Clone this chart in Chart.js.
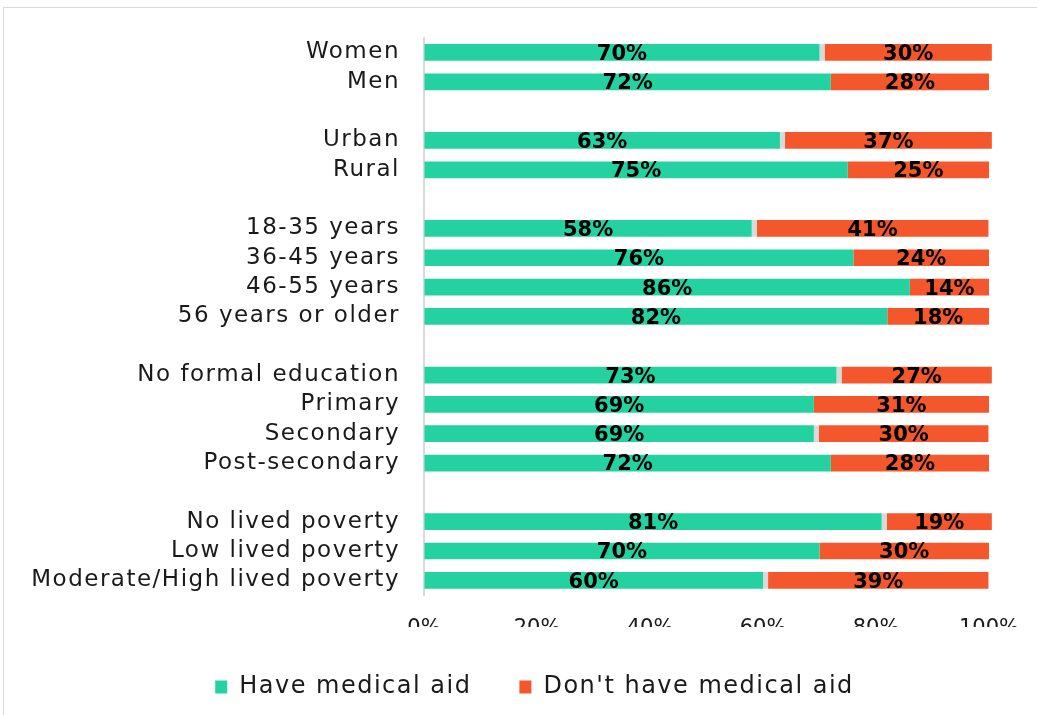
<!DOCTYPE html>
<html>
<head>
<meta charset="utf-8">
<script src="https://cdn.jsdelivr.net/npm/chart.js@4.4.1/dist/chart.umd.min.js"></script>
<style>
html,body{margin:0;padding:0;background:#fff;}
#wrap{width:1037px;height:715px;position:relative;}
</style>
</head>
<body>
<div id="wrap"><canvas id="c" width="1037" height="715"></canvas></div>
<script>
const categories = ['Women','Men','','Urban','Rural','','18-35 years','36-45 years','46-55 years','56 years or older','','No formal education','Primary','Secondary','Post-secondary','','No lived poverty','Low lived poverty','Moderate/High lived poverty'];
const haveMedicalAid = [70,72,null,63,75,null,58,76,86,82,null,73,69,69,72,null,81,70,60];
const unknownShare   = [0.9,0,null,0.9,0,null,0.9,0,0,0,null,0.9,0,0.9,0,null,0.9,0,0.9];
const noMedicalAid   = [29.6,28,null,36.6,25,null,41,24,14,18,null,26.6,31,30,28,null,18.6,30,39];
const xTicks = [0,20,40,60,80,100];
const seriesNames = ['Have medical aid','',"Don't have medical aid"];

const GREEN='#24D1A1', GREY='#D9D9D9', ORANGE='#F4572B';
const FONT='"DejaVu Sans"';
const SP='1.5px';

const spacing = {
  id:'spacing',
  beforeLayout(chart){ chart.ctx.letterSpacing = SP; },
  afterLayout(chart){
    chart.ctx.letterSpacing = '0px';
    if (chart.legend) { chart.legend.left += 30; chart.legend.right += 30; }
  },
  beforeDraw(chart){
    const ctx = chart.ctx;
    ctx.save();
    ctx.strokeStyle = '#D9D9D9';
    ctx.lineWidth = 1;
    ctx.strokeRect(3.5, 7.5, 1100, 800);
    ctx.restore();
    ctx.letterSpacing = SP;
  },
  beforeDatasetsDraw(chart){ chart.ctx.letterSpacing = '0px'; },
  afterDatasetsDraw(chart){
    const ctx = chart.ctx;
    ctx.save();
    ctx.letterSpacing = '0px';
    ctx.font = 'bold 21px ' + FONT;
    ctx.fillStyle = '#000';
    ctx.textAlign = 'center';
    ctx.textBaseline = 'middle';
    [0,2].forEach(di => {
      const meta = chart.getDatasetMeta(di);
      const data = chart.data.datasets[di].data;
      meta.data.forEach((el, i) => {
        const v = data[i];
        if (v == null || v === 0) return;
        ctx.fillText(Math.round(v) + '%', (el.x + el.base) / 2, el.y + 2);
      });
    });
    ctx.restore();
    ctx.letterSpacing = '0px';
  }
};

new Chart(document.getElementById('c'), {
  type: 'bar',
  data: {
    labels: categories,
    datasets: [
      {label: seriesNames[0], data: haveMedicalAid, backgroundColor: GREEN, borderWidth: 0, clip: false},
      {label: seriesNames[1], data: unknownShare, backgroundColor: GREY, borderWidth: 0, clip: false},
      {label: seriesNames[2], data: noMedicalAid, backgroundColor: ORANGE, borderWidth: 0, clip: false}
    ]
  },
  options: {
    indexAxis: 'y',
    responsive: false,
    animation: false,
    events: [],
    barPercentage: 0.57,
    categoryPercentage: 1,
    layout: {padding: {left: 20, right: 48, top: 37, bottom: 6}},
    scales: {
      x: {
        stacked: true,
        min: 0, max: 100,
        afterBuildTicks(scale){ scale.ticks = xTicks.map(v => ({value: v})); },
        afterFit(scale){ scale.height = 32; },
        grid: {display: true, drawOnChartArea: false, drawTicks: true, tickLength: 21, color: 'rgba(0,0,0,0)'},
        border: {display: false},
        ticks: {
          z: 1,
          padding: 0,
          maxRotation: 0,
          font: {family: FONT, size: 21},
          color: '#1a1a1a',
          callback: v => v + '%'
        }
      },
      y: {
        stacked: true,
        afterFit(scale){ scale.width = 404; },
        grid: {display: false, drawTicks: false},
        border: {display: true, color: '#D9D9D9', width: 2},
        ticks: {
          autoSkip: false,
          padding: 24,
          font: {family: FONT, size: 23},
          color: '#1a1a1a'
        }
      }
    },
    plugins: {
      legend: {
        position: 'bottom',
        align: 'center',
        labels: {
          filter: item => item.text !== '',
          boxWidth: 12,
          boxHeight: 13,
          padding: 48,
          font: {family: FONT, size: 24},
          color: '#1a1a1a'
        }
      },
      tooltip: {enabled: false}
    }
  },
  plugins: [spacing]
});
</script>
</body>
</html>
